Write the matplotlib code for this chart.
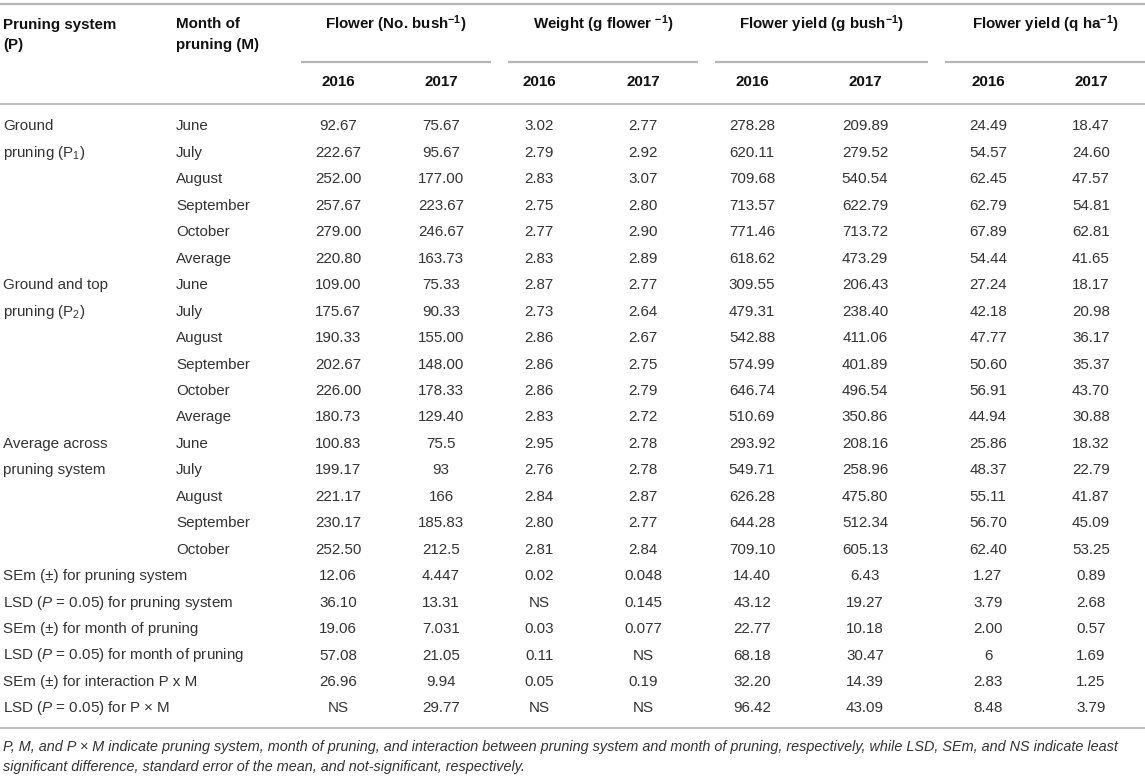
import matplotlib
matplotlib.use("Agg")
import matplotlib.pyplot as plt

plt.rcParams['font.family'] = ['Liberation Sans', 'DejaVu Sans']
plt.rcParams['mathtext.fontset'] = 'custom'
plt.rcParams['mathtext.rm'] = 'Liberation Sans'
plt.rcParams['mathtext.it'] = 'Liberation Sans:italic'
plt.rcParams['mathtext.bf'] = 'Liberation Sans:bold'

# table contents
groups = ["Flower (No. bush$^{\\mathbf{-1}}$)", "Weight (g flower $^{\\mathbf{-1}}$)",
          "Flower yield (g bush$^{\\mathbf{-1}}$)", "Flower yield (q ha$^{\\mathbf{-1}}$)"]
years = ["2016", "2017"]
months = ["June", "July", "August", "September", "October", "Average",
          "June", "July", "August", "September", "October", "Average",
          "June", "July", "August", "September", "October"]
systems = {0: "Ground", 1: "pruning (P$_1$)",
           6: "Ground and top", 7: "pruning (P$_2$)",
           12: "Average across", 13: "pruning system"}
stats = ["SEm (\u00b1) for pruning system",
         "LSD ($\\mathit{P}$ = 0.05) for pruning system",
         "SEm (\u00b1) for month of pruning",
         "LSD ($\\mathit{P}$ = 0.05) for month of pruning",
         "SEm (\u00b1) for interaction P x M",
         "LSD ($\\mathit{P}$ = 0.05) for P \u00d7 M"]

fl16 = ["92.67", "222.67", "252.00", "257.67", "279.00", "220.80", "109.00", "175.67", "190.33", "202.67",
        "226.00", "180.73", "100.83", "199.17", "221.17", "230.17", "252.50",
        "12.06", "36.10", "19.06", "57.08", "26.96", "NS"]
fl17 = ["75.67", "95.67", "177.00", "223.67", "246.67", "163.73", "75.33", "90.33", "155.00", "148.00",
        "178.33", "129.40", "75.5", "93", "166", "185.83", "212.5",
        "4.447", "13.31", "7.031", "21.05", "9.94", "29.77"]
wt16 = ["3.02", "2.79", "2.83", "2.75", "2.77", "2.83", "2.87", "2.73", "2.86", "2.86",
        "2.86", "2.83", "2.95", "2.76", "2.84", "2.80", "2.81",
        "0.02", "NS", "0.03", "0.11", "0.05", "NS"]
wt17 = ["2.77", "2.92", "3.07", "2.80", "2.90", "2.89", "2.77", "2.64", "2.67", "2.75",
        "2.79", "2.72", "2.78", "2.78", "2.87", "2.77", "2.84",
        "0.048", "0.145", "0.077", "NS", "0.19", "NS"]
fyg16 = ["278.28", "620.11", "709.68", "713.57", "771.46", "618.62", "309.55", "479.31", "542.88", "574.99",
         "646.74", "510.69", "293.92", "549.71", "626.28", "644.28", "709.10",
         "14.40", "43.12", "22.77", "68.18", "32.20", "96.42"]
fyg17 = ["209.89", "279.52", "540.54", "622.79", "713.72", "473.29", "206.43", "238.40", "411.06", "401.89",
         "496.54", "350.86", "208.16", "258.96", "475.80", "512.34", "605.13",
         "6.43", "19.27", "10.18", "30.47", "14.39", "43.09"]
fyq16 = ["24.49", "54.57", "62.45", "62.79", "67.89", "54.44", "27.24", "42.18", "47.77", "50.60",
         "56.91", "44.94", "25.86", "48.37", "55.11", "56.70", "62.40",
         "1.27", "3.79", "2.00", "6", "2.83", "8.48"]
fyq17 = ["18.47", "24.60", "47.57", "54.81", "62.81", "41.65", "18.17", "20.98", "36.17", "35.37",
         "43.70", "30.88", "18.32", "22.79", "41.87", "45.09", "53.25",
         "0.89", "2.68", "0.57", "1.69", "1.25", "3.79"]
footnote = ["P, M, and P \u00d7 M indicate pruning system, month of pruning, and interaction between pruning "
            "system and month of pruning, respectively, while LSD, SEm, and NS indicate least",
            "significant difference, standard error of the mean, and not-significant, respectively."]

columns = [fl16, fl17, wt16, wt17, fyg16, fyg17, fyq16, fyq17]

# layout (pixels)
W, H = 1145, 777
col_x = [338, 441, 539, 643, 752, 865, 988, 1091]
spans = [(301, 491), (508, 698), (715, 928), (945, 1145)]
row0, dy = 126.5, 26.45
fs = 10.9
hdr_c = '#111111'
txt_c = '#333333'
line_c = '#b5b5b5'

fig = plt.figure(figsize=(W / 100, H / 100), dpi=100)
ax = fig.add_axes([0, 0, 1, 1])
ax.set_xlim(0, W)
ax.set_ylim(H, 0)
ax.axis('off')

# rules
ax.plot([0, W], [4, 4], color=line_c, lw=1.6, solid_capstyle='butt')
for a, b in spans:
    ax.plot([a, b], [62, 62], color=line_c, lw=1.6, solid_capstyle='butt')
ax.plot([0, W], [103.5, 103.5], color=line_c, lw=1.2, solid_capstyle='butt')
ax.plot([0, W], [728, 728], color=line_c, lw=1.2, solid_capstyle='butt')

# header
ax.text(3, 24.5, "Pruning system", fontsize=fs, fontweight='bold', color=hdr_c, va='center')
ax.text(3, 45.5, "(P)", fontsize=fs, fontweight='bold', color=hdr_c, va='center')
ax.text(176, 24.5, "Month of", fontsize=fs, fontweight='bold', color=hdr_c, va='center')
ax.text(176, 45.5, "pruning (M)", fontsize=fs, fontweight='bold', color=hdr_c, va='center')
for (a, b), g in zip(spans, groups):
    ax.text((a + b) / 2, 24.5, g, fontsize=fs, fontweight='bold', color=hdr_c, va='center', ha='center')
for i, x in enumerate(col_x):
    ax.text(x, 82.5, years[i % 2], fontsize=fs, fontweight='bold', color=hdr_c, va='center', ha='center')

# body
for r in range(len(fl16)):
    y = row0 + r * dy
    if r < len(months):
        ax.text(176, y, months[r], fontsize=fs, color=txt_c, va='center')
        if r in systems:
            ax.text(3, y, systems[r], fontsize=fs, color=txt_c, va='center')
    else:
        ax.text(3, y, stats[r - len(months)], fontsize=fs, color=txt_c, va='center')
    for x, col in zip(col_x, columns):
        ax.text(x, y, col[r], fontsize=fs, color=txt_c, va='center', ha='center')

# footnote
ax.text(3, 747.5, footnote[0], fontsize=10.4, style='italic', color=txt_c, va='center')
ax.text(3, 766.5, footnote[1], fontsize=10.4, style='italic', color=txt_c, va='center')

fig.savefig('out.png', dpi=100)
